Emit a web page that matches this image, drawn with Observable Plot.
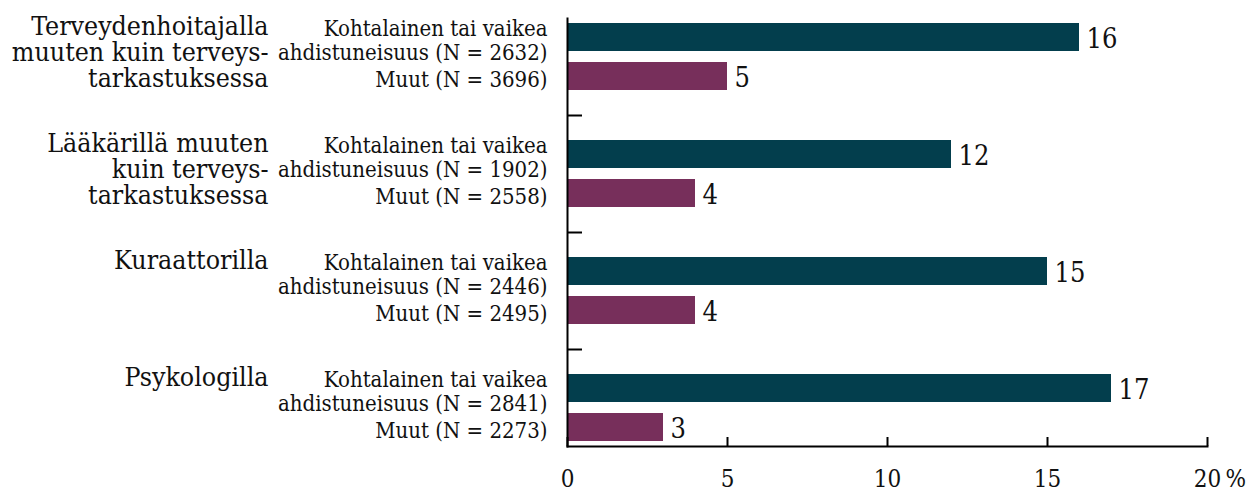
<!DOCTYPE html>
<html>
<head>
<meta charset="utf-8">
<script src="https://cdn.jsdelivr.net/npm/d3@7"></script>
<script src="https://cdn.jsdelivr.net/npm/@observablehq/plot@0.6"></script>
<style>
  html, body { margin: 0; padding: 0; background: #fff; overflow: hidden; }
  #chart svg { display: block; font-stretch: condensed; }
</style>
</head>
<body>
<div id="chart"></div>
<script>
// ---- data ----
const groups = [
  "Terveydenhoitajalla\nmuuten kuin terveys-\ntarkastuksessa",
  "Lääkärillä muuten\nkuin terveys-\ntarkastuksessa",
  "Kuraattorilla",
  "Psykologilla"
];
const seriesNames = ["Kohtalainen tai vaikea\nahdistuneisuus", "Muut"];
const anxiousValues = [16, 12, 15, 17];
const otherValues = [5, 4, 4, 3];
const anxiousN = [2632, 1902, 2446, 2841];
const otherN = [3696, 2558, 2495, 2273];
const xTicks = [0, 5, 10, 15, 20];
const colors = ["#033e4d", "#772f5b"];

// ---- table built from the arrays ----
const rows = [];
const yDomain = [];
const gapKeys = [];
groups.forEach((g, gi) => {
  const vals = [anxiousValues[gi], otherValues[gi]];
  const ns = [anxiousN[gi], otherN[gi]];
  seriesNames.forEach((s, si) => {
    const key = `${gi}-${si}`;
    yDomain.push(key);
    rows.push({group: g, gi, si, series: s, key, value: vals[si],
               label: `${s} (N = ${ns[si]})`});
  });
  if (gi < groups.length - 1) {
    const gk = `${gi}-gap`;
    yDomain.push(gk);
    gapKeys.push(gk);
  }
});
const firstRows = rows.filter(d => d.si === 0);

const W = 1251, H = 490;
const mL = 567, mR = 44, mT = 18, mB = 44;
const frameW = W - mL - mR, frameH = H - mT - mB;
const font = "'DejaVu Serif Condensed', 'DejaVu Serif', serif";

const chart = Plot.plot({
  width: W,
  height: H,
  marginLeft: mL,
  marginRight: mR,
  marginTop: mT,
  marginBottom: mB,
  style: {fontFamily: font, color: "#111", background: "#fff"},
  x: {domain: [0, 20], axis: null},
  y: {domain: yDomain, axis: null, paddingInner: 11 / 39, paddingOuter: 0.128},
  color: {domain: seriesNames, range: colors},
  marks: [
    Plot.barX(rows, {x: "value", y: "key", fill: "series"}),
    Plot.frame({anchor: "left", strokeWidth: 2, stroke: "#000"}),
    Plot.frame({anchor: "bottom", strokeWidth: 2, stroke: "#000"}),
    Plot.tickY(gapKeys, {y: d => d, stroke: "#000", strokeWidth: 2, insetRight: frameW - 15}),
    Plot.tickX(xTicks, {x: d => d, stroke: "#000", strokeWidth: 2, insetTop: frameH - 9}),
    Plot.axisX({ticks: xTicks, tickSize: 0, tickPadding: 23, fontSize: 24, fontFamily: font, label: null}),
    Plot.text([xTicks[xTicks.length - 1]], {x: d => d, text: () => "%", frameAnchor: "bottom",
      textAnchor: "start", lineAnchor: "top", dx: 18, dy: 23, fontSize: 24}),
    Plot.text(rows, {x: "value", y: "key", text: d => String(d.value), textAnchor: "start",
      dx: 7, dy: 2, fontSize: 27}),
    Plot.text(rows, {x: 0, y: "key", text: "label", textAnchor: "end", lineAnchor: "middle",
      lineHeight: 24 / 22, dx: -20, dy: 3, fontSize: 22}),
    Plot.text(firstRows, {x: 0, y: "key", text: "group", textAnchor: "end", lineAnchor: "top",
      lineHeight: 26 / 26.5, dx: -299, dy: -21, fontSize: 26.5})
  ]
});
document.getElementById("chart").appendChild(chart);
</script>
</body>
</html>
